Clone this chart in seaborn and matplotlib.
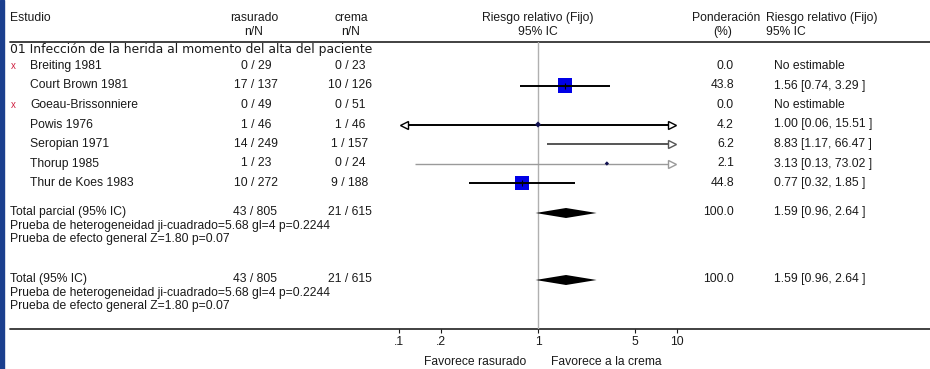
import numpy as np
import pandas as pd
import matplotlib
matplotlib.use("Agg")
import matplotlib.pyplot as plt
from matplotlib.ticker import FixedLocator, FixedFormatter, NullLocator
import seaborn as sns

# ---------------- data ----------------
studies = ["Breiting 1981", "Court Brown 1981", "Goeau-Brissonniere", "Powis 1976",
           "Seropian 1971", "Thorup 1985", "Thur de Koes 1983"]
rasurado = ["0 / 29", "17 / 137", "0 / 49", "1 / 46", "14 / 249", "1 / 23", "10 / 272"]
crema = ["0 / 23", "10 / 126", "0 / 51", "1 / 46", "1 / 157", "0 / 24", "9 / 188"]
weights = [0.0, 43.8, 0.0, 4.2, 6.2, 2.1, 44.8]
rr = [np.nan, 1.56, np.nan, 1.00, 8.83, 3.13, 0.77]
rr_lo = [np.nan, 0.74, np.nan, 0.06, 1.17, 0.13, 0.32]
rr_hi = [np.nan, 3.29, np.nan, 15.51, 66.47, 73.02, 1.85]
not_estimable = [True, False, True, False, False, False, False]

total_ras = "43 / 805"
total_crema = "21 / 615"
pooled_rr, pooled_lo, pooled_hi = 1.59, 0.96, 2.64
hetero_text = "Prueba de heterogeneidad ji-cuadrado=5.68 gl=4 p=0.2244"
effect_text = "Prueba de efecto general Z=1.80 p=0.07"
subgroup = "01 Infección de la herida al momento del alta del paciente"

tick_vals = [0.1, 0.2, 1, 5, 10]
tick_labels = [".1", ".2", "1", "5", "10"]

# ---------------- layout ----------------
W, H = 930, 369
sns.set_theme(style="white")
plt.rcParams["font.family"] = ["Liberation Sans", "DejaVu Sans"]
FS = 8.7
TXT = "#1a1a1a"

fig = plt.figure(figsize=(W / 100, H / 100), dpi=100)
fig.patch.set_facecolor("white")

# text layer in pixel coordinates
tx = fig.add_axes([0, 0, 1, 1])
tx.set_xlim(0, W)
tx.set_ylim(H, 0)
tx.axis("off")

# left blue border
tx.add_patch(plt.Rectangle((0, 0), 4, H, color="#1b3f8e", zorder=5))

TOP_LINE, AXIS_LINE = 42, 329
tx.plot([10, W], [TOP_LINE, TOP_LINE], color="#333333", lw=1.3)
tx.plot([10, W], [AXIS_LINE, AXIS_LINE], color="#333333", lw=1.3)

def t(x, y, s, ha="left", **kw):
    kw.setdefault("fontsize", FS)
    tx.text(x, y, s, ha=ha, va="center", color=TXT, **kw)

# headers
t(10, 18, "Estudio")
t(254, 18, "rasurado", ha="center"); t(254, 32, "n/N", ha="center")
t(351, 18, "crema", ha="center"); t(351, 32, "n/N", ha="center")
t(538, 18, "Riesgo relativo (Fijo)", ha="center"); t(538, 32, "95% IC", ha="center")
t(726, 18, "Ponderación", ha="center"); t(723, 32, "(%)", ha="center")
t(766, 18, "Riesgo relativo (Fijo)"); t(766, 32, "95% IC")
t(10, 50, subgroup, family=["DejaVu Sans"], fontsize=8.9)

ROW0, STEP = 66, 19.5
row_y = [ROW0 + i * STEP for i in range(len(studies))]
for i, y in enumerate(row_y):
    if not_estimable[i]:
        tx.text(13, y, "x", ha="center", va="center", fontsize=7, color="#d02040")
    t(30, y, studies[i])
    t(256, y, rasurado[i], ha="center")
    t(350, y, crema[i], ha="center")
    t(734, y, f"{weights[i]:.1f}", ha="right")
    if not_estimable[i]:
        t(774, y, "No estimable")
    else:
        t(774, y, f"{rr[i]:.2f} [{rr_lo[i]:.2f}, {rr_hi[i]:.2f} ]")

total_y = [212, 279]
total_names = ["Total parcial (95% IC)", "Total (95% IC)"]
for name, y in zip(total_names, total_y):
    t(10, y, name)
    t(255, y, total_ras, ha="center")
    t(350, y, total_crema, ha="center")
    t(734, y, "100.0", ha="right")
    t(774, y, f"{pooled_rr:.2f} [{pooled_lo:.2f}, {pooled_hi:.2f} ]")
    t(10, y + 14, hetero_text)
    t(10, y + 27, effect_text)

t(526, 362, "Favorece rasurado", ha="right")
t(551, 362, "Favorece a la crema")

# ---------------- forest axes ----------------
X0, X1 = 399, 677
fx = fig.add_axes([X0 / W, (H - AXIS_LINE) / H, (X1 - X0) / W, (AXIS_LINE - TOP_LINE) / H])
fx.patch.set_alpha(0)
fx.set_xscale("log")
fx.set_xlim(0.1, 10)
fx.set_ylim(AXIS_LINE, TOP_LINE)
for sp in fx.spines.values():
    sp.set_visible(False)
fx.xaxis.set_major_locator(FixedLocator(tick_vals))
fx.xaxis.set_major_formatter(FixedFormatter(tick_labels))
fx.xaxis.set_minor_locator(NullLocator())
fx.set_yticks([])
fx.tick_params(axis="x", length=3, width=0.8, pad=2, labelsize=FS, colors=TXT, bottom=True)
fx.grid(False)

fx.axvline(1, color="#b0b0b0", lw=1.0, zorder=1)

df = pd.DataFrame({"y": row_y, "rr": rr, "lo": rr_lo, "hi": rr_hi, "w": weights})
est = df.dropna()

line_colors = {3: "#000000", 4: "#555555", 5: "#9a9a9a"}
XMIN_C, XMAX_C = 0.108, 9.2
for idx, r in est.iterrows():
    c = line_colors.get(idx, "#000000")
    lw = 1.4 if idx != 5 else 1.0
    lo_c = max(r.lo, XMIN_C)
    hi_c = min(r.hi, XMAX_C)
    fx.plot([lo_c, hi_c], [r.y, r.y], color=c, lw=lw, zorder=4, solid_capstyle="butt")
    if r.lo < 0.1:
        fx.plot([XMIN_C], [r.y], marker="<", ms=6, mfc="white", mec=c, mew=1.0, zorder=5)
    if r.hi > 10:
        fx.plot([XMAX_C], [r.y], marker=">", ms=6, mfc="white", mec=c, mew=1.0, zorder=5)

big = est[est.w >= 10]
small = est[est.w < 10]
sns.scatterplot(data=big, x="rr", y="y", size="w", sizes=(0, 104), size_norm=(0, 44.8),
                marker="s", color="#0000e6", edgecolor="none", legend=False, ax=fx, zorder=3)
sns.scatterplot(data=small[small.rr <= 8], x="rr", y="y", size="w", sizes=(0, 104), size_norm=(0, 44.8),
                marker="D", color="#101050", edgecolor="none", legend=False, ax=fx, zorder=6)
for idx, r in big.iterrows():
    fx.plot([r.rr], [r.y], marker="+", ms=4, color="#000000", mew=0.8, zorder=6)

# pooled diamonds
for y in total_y:
    y_d = y + 1
    fx.fill([pooled_lo, pooled_rr, pooled_hi, pooled_rr], [y_d, y_d - 5, y_d, y_d + 5],
            color="#000000", zorder=4, lw=0)

fx.set_xlabel("")
fx.set_ylabel("")
fx.set_xlim(0.1, 10)
fx.set_ylim(AXIS_LINE, TOP_LINE)

fig.savefig("out.png", dpi=100, facecolor="white")
